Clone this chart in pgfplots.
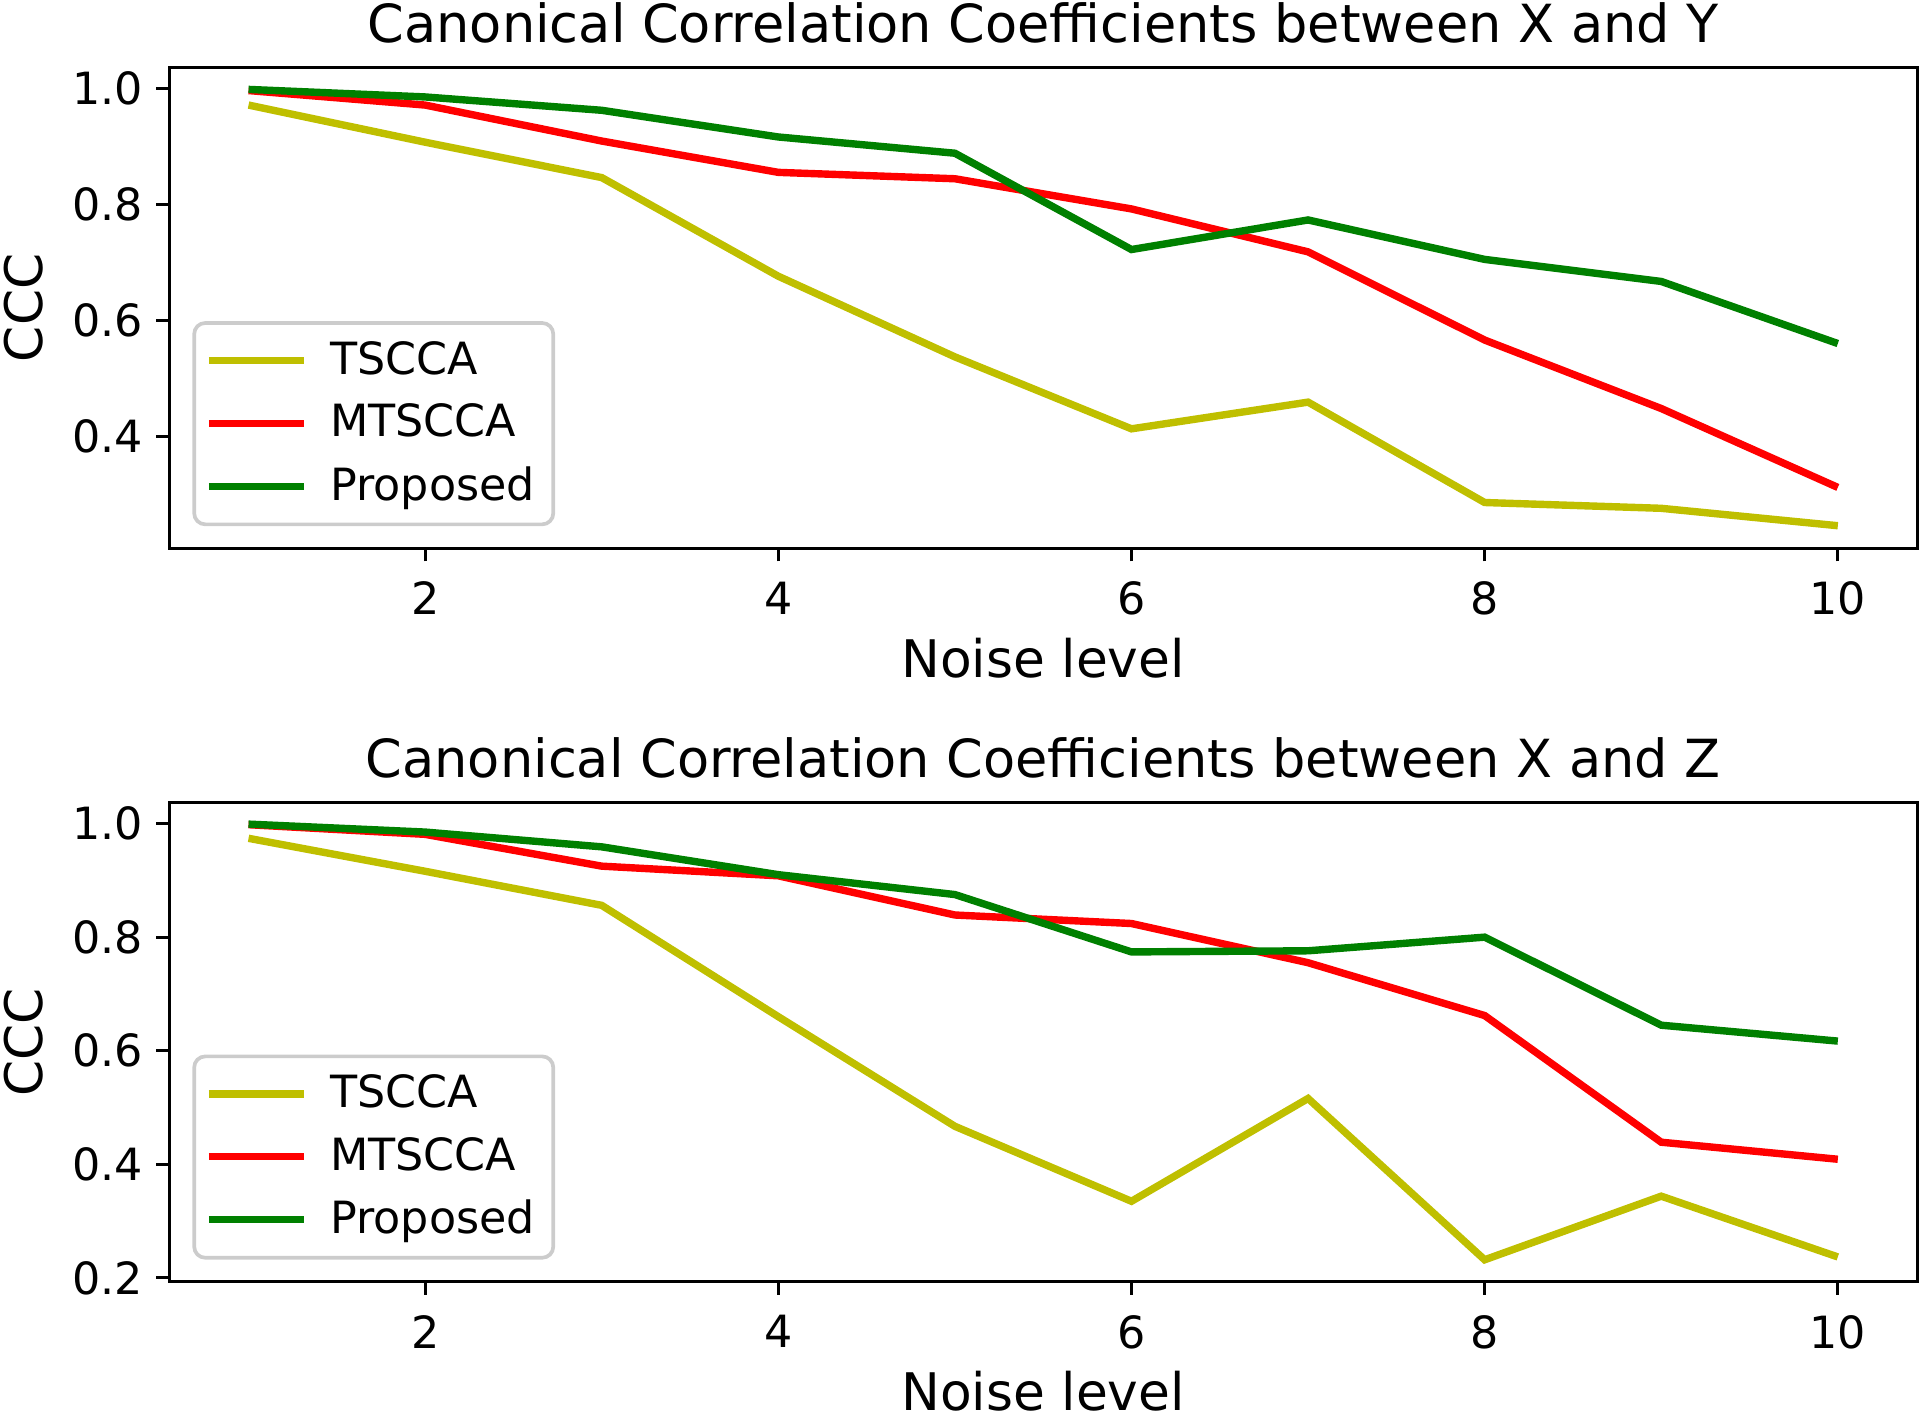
\documentclass[border=0pt]{standalone}
\usepackage{pgfplots}
\pgfplotsset{compat=1.18}
\usepackage{fontspec}
\setmainfont{DejaVu Sans}
\definecolor{myy}{rgb}{0.75,0.75,0}
\definecolor{myr}{rgb}{1,0,0}
\definecolor{myg}{rgb}{0,0.5,0}
\begin{document}
\begin{tikzpicture}
\pgfplotsset{
  every axis/.style={
    scale only axis, width=472.5pt, height=130pt,
    xmin=0.55, xmax=10.45,
    xtick={2,4,6,8,10},
    axis line style={line width=0.8pt},
    tick style={black, line width=0.8pt},
    tick align=outside, major tick length=3.5pt,
    xtick pos=bottom, ytick pos=left,
    /pgf/number format/assume math mode=true,
    yticklabel style={/pgf/number format/.cd, fixed, fixed zerofill, precision=1},
    tick label style={font=\fontsize{12}{14}\selectfont},
    xticklabel style={yshift=-2pt},
    label style={font=\fontsize{14}{16}\selectfont},
    xlabel style={inner sep=0pt, yshift=-2.5pt},
    ylabel style={yshift=1pt},
    title style={font=\fontsize{14.2}{16}\selectfont, yshift=-3pt},
    xlabel={Noise level}, ylabel={CCC},
    legend style={at={(axis description cs:0.0133,0.046)}, anchor=south west,
      draw=black!20, line width=1pt, rounded corners=3pt, fill=white, fill opacity=0.8, text opacity=1,
      font=\fontsize{12}{14}\selectfont, row sep=2.5pt, inner sep=3pt},
    legend cell align=left,
    legend image code/.code={\draw[#1, line width=2pt] (-1.3pt,0pt) -- (24.5pt,0pt); \path (28.5pt,0pt);},
  }
}
\useasboundingbox (-45.7pt,18.2pt) rectangle (473.5pt,-365.3pt);
\begin{axis}[at={(0,0)}, anchor=north west,
  ymin=0.207, ymax=1.036, ytick={0.4,0.6,0.8,1.0},
  title={Canonical Correlation Coefficients between X and Y}]
\addplot[myy, line width=2pt] coordinates {(1,0.971)(2,0.907)(3,0.846)(4,0.676)(5,0.537)(6,0.413)(7,0.459)(8,0.286)(9,0.276)(10,0.246)};
\addlegendentry{TSCCA}
\addplot[myr, line width=2pt] coordinates {(1,0.996)(2,0.971)(3,0.909)(4,0.855)(5,0.844)(6,0.792)(7,0.718)(8,0.566)(9,0.448)(10,0.312)};
\addlegendentry{MTSCCA}
\addplot[myg, line width=2pt] coordinates {(1,0.998)(2,0.985)(3,0.962)(4,0.916)(5,0.888)(6,0.722)(7,0.773)(8,0.705)(9,0.667)(10,0.560)};
\addlegendentry{Proposed}
\end{axis}
\begin{axis}[at={(0,-198.7pt)}, anchor=north west, height=129.5pt,
  ymin=0.1935, ymax=1.037, ytick={0.2,0.4,0.6,0.8,1.0},
  title={Canonical Correlation Coefficients between X and Z}]
\addplot[myy, line width=2pt] coordinates {(1,0.974)(2,0.916)(3,0.856)(4,0.660)(5,0.467)(6,0.335)(7,0.516)(8,0.232)(9,0.344)(10,0.237)};
\addlegendentry{TSCCA}
\addplot[myr, line width=2pt] coordinates {(1,0.998)(2,0.981)(3,0.925)(4,0.908)(5,0.839)(6,0.824)(7,0.755)(8,0.662)(9,0.439)(10,0.409)};
\addlegendentry{MTSCCA}
\addplot[myg, line width=2pt] coordinates {(1,0.999)(2,0.985)(3,0.959)(4,0.910)(5,0.875)(6,0.774)(7,0.776)(8,0.800)(9,0.645)(10,0.617)};
\addlegendentry{Proposed}
\end{axis}
\end{tikzpicture}
\end{document}
